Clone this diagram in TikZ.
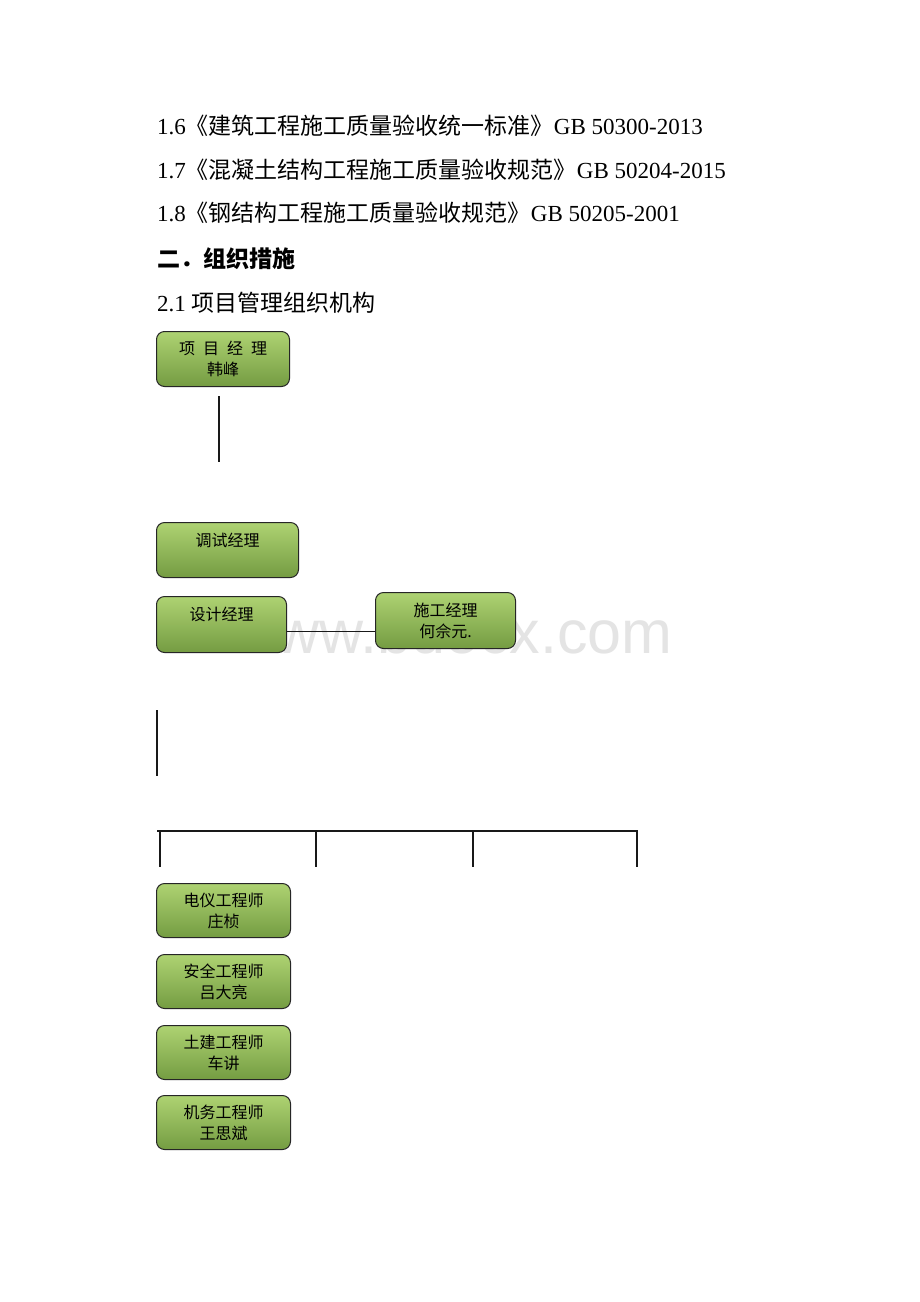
\documentclass[tikz,border=0pt]{standalone}
\usepackage{fontspec}
\setmainfont{Liberation Serif}
\newfontfamily\cjk{Noto Sans CJK SC}
\newfontfamily\wmfont{Liberation Sans}
\definecolor{boxtop}{RGB}{174,210,114}
\definecolor{boxbot}{RGB}{116,156,66}
\definecolor{wmgray}{RGB}{228,228,228}
\tikzset{
	orgbox/.style={draw=black!85, line width=1pt, rounded corners=8pt, top color=boxtop, bottom color=boxbot,
		anchor=north west, align=center, minimum height=55, inner sep=0pt,
		font=\cjk\fontsize{16}{21}\selectfont},
	bodyline/.style={anchor=base west, inner sep=0pt, font=\fontsize{23}{28}\selectfont},
	link/.style={line width=1.4pt, black!90},
}

\begin{document}
\begin{tikzpicture}[x=1pt, y=-1pt]
			%%%%% START %%%%%
			\useasboundingbox[fill=white] (0,0) rectangle (920,1302);
			
			\node[bodyline] (l16) at (157,134) {1.6{\cjk《建筑工程施工质量验收统一标准》}GB 50300-2013};
			\node[bodyline] (l17) at (157,178) {1.7{\cjk《混凝土结构工程施工质量验收规范》}GB 50204-2015};
			\node[bodyline] (l18) at (157,221) {1.8{\cjk《钢结构工程施工质量验收规范》}GB 50205-2001};
			\node[bodyline] (sec2) at (157,267) {\cjk\bfseries 二．组织措施};
			\node[bodyline] (l21) at (157,311) {2.1 {\cjk 项目管理组织机构}};
			
			\node[anchor=base, text=wmgray, font=\wmfont\fontsize{61}{61}\selectfont] (wm) at (452,653) {www.bdocx.com};
			
			\node[orgbox, minimum width=133] (pm) at (156,331) {项\hspace{8pt}目\hspace{8pt}经\hspace{8pt}理\\韩峰};
			\coordinate (v1a) at (219,396);
			\coordinate (v1b) at (219,462);
			\draw[link] (v1a) -- (v1b);
			
			\node[orgbox, minimum width=142] (test) at (156,522) {调试经理\\\mbox{}};
			\node[orgbox, minimum width=130, minimum height=56] (dsg) at (156,596) {设计经理\\\mbox{}};
			\node[orgbox, minimum width=140, minimum height=56] (cons) at (375,592) {施工经理\\何佘元.};
			\draw[link] ([yshift=-7pt]dsg.east) -- ([yshift=-11pt]cons.west);
			
			\coordinate (v2a) at (157,710);
			\coordinate (v2b) at (157,776);
			\draw[link] (v2a) -- (v2b);
			
			\coordinate (bus1) at (157,831);
			\coordinate (bus2) at (638,831);
			\draw[link] (bus1) -- (bus2);
			\foreach \bx in {160,316,473,637}
				\draw[link] (\bx,831) -- (\bx,867);
			
			\node[orgbox, minimum width=134, minimum height=54] (eng1) at (156,883) {电仪工程师\\庄桢};
			\node[orgbox, minimum width=134, minimum height=54] (eng2) at (156,954) {安全工程师\\吕大亮};
			\node[orgbox, minimum width=134, minimum height=54] (eng3) at (156,1025) {土建工程师\\车讲};
			\node[orgbox, minimum width=134, minimum height=54] (eng4) at (156,1095) {机务工程师\\王思斌};
			
			%%%%% END %%%%%
		\end{tikzpicture}
\end{document}
